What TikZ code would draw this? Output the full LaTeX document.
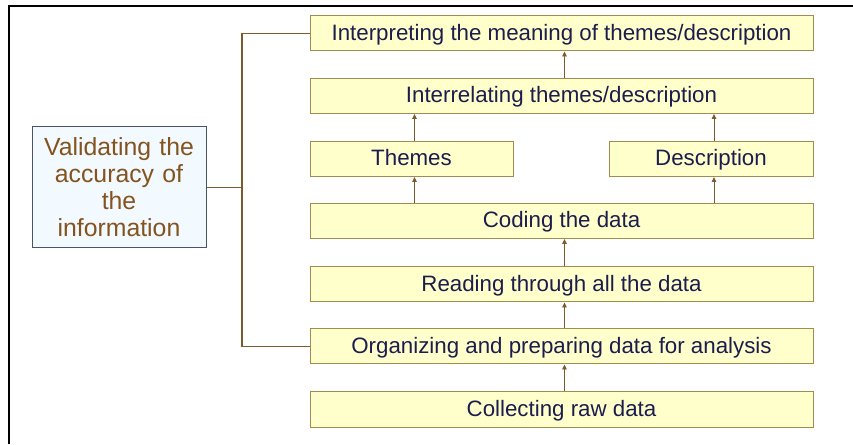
\documentclass[tikz,border=0pt]{standalone}
\usepackage{fontspec}
\setmainfont{Liberation Sans}
\usetikzlibrary{arrows.meta}
\definecolor{boxfill}{HTML}{FFFFCC}
\definecolor{boxdraw}{HTML}{A08B50}
\definecolor{boxtext}{HTML}{1C1C4E}
\definecolor{valfill}{HTML}{F2F9FF}
\definecolor{valdraw}{HTML}{4A5468}
\definecolor{valtext}{HTML}{84541E}
\definecolor{linecol}{HTML}{7B5B2B}
\tikzset{
  stepbox/.style={draw=boxdraw, fill=boxfill, line width=1pt, text=boxtext,
    font=\fontsize{22.3}{26}\selectfont, minimum height=35pt, inner sep=0pt,
    text height=17pt, text depth=3.6pt, anchor=center},
  valbox/.style={draw=valdraw, fill=valfill, line width=1pt, text=valtext,
    font=\fontsize{24.8}{27}\selectfont, minimum width=174pt, minimum height=121pt,
    inner sep=0pt, align=center, text width=170pt},
  uparrow/.style={draw=linecol, line width=0.9pt, -{Triangle[length=5pt,width=4.5pt]}},
  bracket/.style={draw=linecol, line width=1.4pt}
}
\begin{document}
\begin{tikzpicture}[x=1pt,y=1pt]
\useasboundingbox (0,0) rectangle (853,444);
\fill[white] (0,0) rectangle (853,444);
\draw[line width=2.2pt, black] (9,0) -- (9,438) -- (853,438);

\node[stepbox, minimum width=503pt] (interp) at (561.5,410.5) {Interpreting the meaning of themes/description};
\node[stepbox, minimum width=503pt] (interrel) at (561.5,348) {Interrelating themes/description};
\node[stepbox, minimum width=203pt] (themes) at (411.5,285) {Themes};
\node[stepbox, minimum width=204pt] (descr) at (711,285) {Description};
\node[stepbox, minimum width=503pt] (coding) at (561.5,223) {Coding the data};
\node[stepbox, minimum width=503pt] (reading) at (561.5,159.5) {Reading through all the data};
\node[stepbox, minimum width=503pt] (organ) at (561.5,97.5) {Organizing and preparing data for analysis};
\node[stepbox, minimum width=503pt] (collect) at (561.5,34.5) {Collecting raw data};

\node[valbox] (valid) at (119,256.5) {Validating the\\accuracy of\\the\\information};

\coordinate (bx) at (242,0);
\draw[bracket] (valid.east) -- (valid.east -| bx);
\draw[bracket] (interp.west) -- (interp.west -| bx) -- (organ.west -| bx) -- (organ.west);

\draw[uparrow] ([xshift=3pt]collect.north) -- ([xshift=3pt]organ.south);
\draw[uparrow] ([xshift=3pt]organ.north) -- ([xshift=3pt]reading.south);
\draw[uparrow] ([xshift=3pt]reading.north) -- ([xshift=3pt]coding.south);
\draw[uparrow] ([xshift=3pt]themes.south |- coding.north) -- ([xshift=3pt]themes.south);
\draw[uparrow] ([xshift=3pt]descr.south |- coding.north) -- ([xshift=3pt]descr.south);
\draw[uparrow] ([xshift=3pt]themes.north) -- ([xshift=3pt]themes.north |- interrel.south);
\draw[uparrow] ([xshift=3pt]descr.north) -- ([xshift=3pt]descr.north |- interrel.south);
\draw[uparrow] ([xshift=3pt]interrel.north) -- ([xshift=3pt]interp.south);
\end{tikzpicture}
\end{document}
